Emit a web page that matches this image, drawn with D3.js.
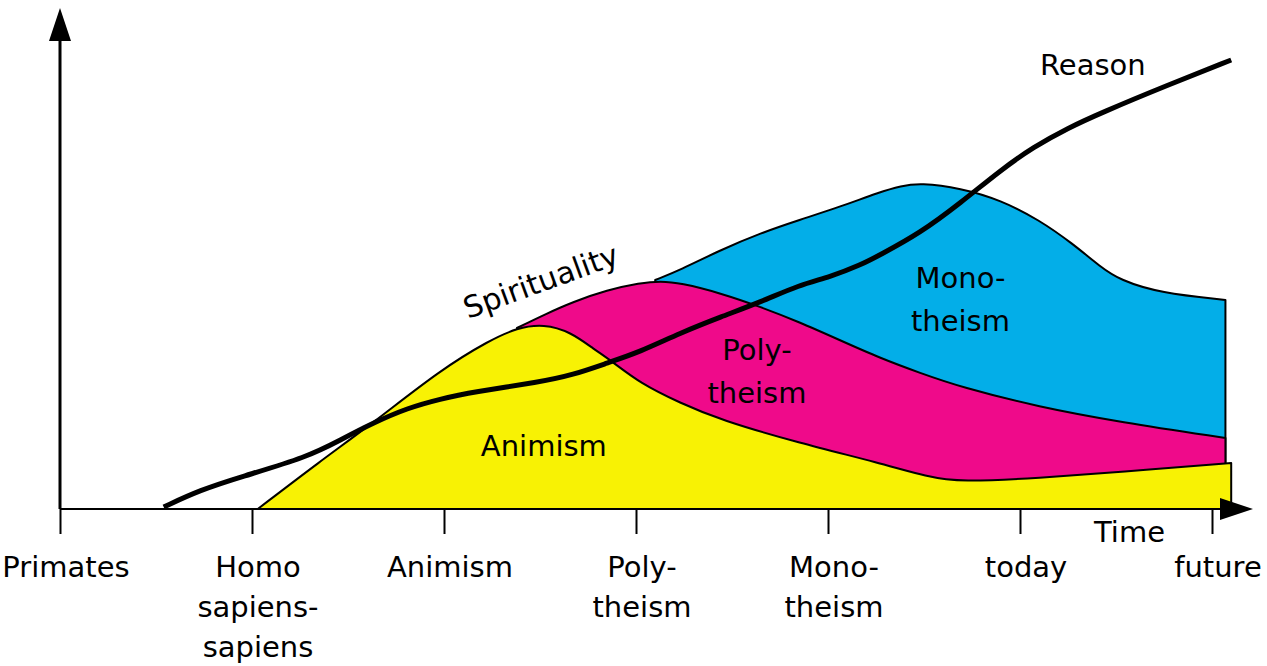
<!DOCTYPE html>
<html>
<head>
<meta charset="utf-8">
<script src="https://cdn.jsdelivr.net/npm/d3@7"></script>
<style>
  body { margin: 0; background: #fff; }
  text { font-family: "DejaVu Sans", sans-serif; font-size: 29px; fill: #000; }
</style>
</head>
<body>
<svg id="chart" width="1267" height="666"></svg>
<script>
"use strict";

// eras on the time axis (tick index 0..6), label lines
var eras = [
  ["Primates"],
  ["Homo", "sapiens-", "sapiens"],
  ["Animism"],
  ["Poly-", "theism"],
  ["Mono-", "theism"],
  ["today"],
  ["future"]
];

// [time, level]
var animism = [
  [1.03, 0], [1.35, 47], [1.63, 86], [1.98, 139], [2.24, 169], [2.38, 181],
  [2.52, 185], [2.66, 177], [2.78, 160], [2.88, 147], [3.02, 126], [3.23, 106],
  [3.44, 89], [3.85, 66], [4.27, 46], [4.52, 32], [4.69, 27], [5.10, 31],
  [5.52, 37], [6.10, 46]
];
var polytheism = [
  [2.38, 181], [2.53, 195], [2.67, 207], [2.85, 219], [3.02, 226], [3.13, 228],
  [3.23, 226], [3.44, 216], [3.65, 202], [3.85, 187], [4.06, 169], [4.27, 151],
  [4.48, 136], [4.69, 122], [5.10, 102], [5.52, 87], [6.07, 71]
];
var monotheism = [
  [3.10, 229], [3.23, 239], [3.44, 259], [3.65, 276], [3.85, 289], [4.06, 302],
  [4.27, 317], [4.38, 323], [4.48, 326], [4.69, 321], [4.90, 309], [5.10, 289],
  [5.27, 266], [5.42, 242], [5.52, 229], [5.73, 216], [6.07, 209]
];
var reason = [
  [0.54, 2], [0.73, 19], [0.94, 32], [1.29, 52], [1.46, 69], [1.63, 86],
  [1.81, 101], [1.98, 110], [2.15, 117], [2.50, 127], [2.67, 134], [2.85, 146],
  [3.02, 157], [3.23, 176], [3.44, 192], [3.65, 207], [3.85, 224], [4.01, 232],
  [4.17, 244], [4.27, 254], [4.48, 276], [4.69, 306], [4.90, 339], [5.07, 362],
  [5.25, 381], [5.42, 396], [5.77, 424], [6.10, 449]
];

var layers = [
  { name: ["Mono-", "theism"], data: monotheism, color: "#03aee8", label: [4.69, 221] },
  { name: ["Poly-", "theism"], data: polytheism, color: "#ef0a8a", label: [3.63, 149] },
  { name: ["Animism"], data: animism, color: "#f8f204", label: [2.52, 53] }
];

var svg = d3.select("#chart");
var x = d3.scaleLinear().domain([0, 6]).range([60, 1212]);
var y = d3.scaleLinear().domain([0, 500]).range([509, 9]);

var area = d3.area()
  .x(function(d) { return x(d[0]); })
  .y0(y(0))
  .y1(function(d) { return y(d[1]); })
  .curve(d3.curveBasis);

layers.forEach(function(l) {
  svg.append("path").datum(l.data)
    .attr("d", area)
    .attr("fill", l.color)
    .attr("stroke", "#000")
    .attr("stroke-width", 2)
    .attr("stroke-linejoin", "round");
});

layers.forEach(function(l) {
  var t = svg.append("text")
    .attr("text-anchor", "middle")
    .attr("x", x(l.label[0]))
    .attr("y", y(l.label[1]));
  l.name.forEach(function(s, i) {
    t.append("tspan").attr("x", x(l.label[0])).attr("dy", i ? 43 : 0).text(s);
  });
});

// reason curve
var line = d3.line()
  .x(function(d) { return x(d[0]); })
  .y(function(d) { return y(d[1]); })
  .curve(d3.curveBasis);

svg.append("path").datum(reason)
  .attr("d", line)
  .attr("fill", "none")
  .attr("stroke", "#000")
  .attr("stroke-width", 5)
  .attr("stroke-linecap", "butt");

// axes
var xAxis = svg.append("g")
  .attr("transform", "translate(0," + y(0) + ")")
  .call(d3.axisBottom(x).ticks(6).tickSize(25).tickSizeOuter(0).tickFormat(""));
xAxis.select(".domain").remove();
xAxis.selectAll(".tick line").attr("stroke", "#000").attr("stroke-width", 2);

svg.append("line")
  .attr("x1", x(0)).attr("x2", 1222)
  .attr("y1", y(0)).attr("y2", y(0))
  .attr("stroke", "#000").attr("stroke-width", 2);
svg.append("path")
  .attr("d", "M1220," + (y(0) - 11) + "L1253," + y(0) + "L1220," + (y(0) + 11) + "Z")
  .attr("fill", "#000");

svg.append("line")
  .attr("x1", x(0)).attr("x2", x(0))
  .attr("y1", y(0)).attr("y2", 38)
  .attr("stroke", "#000").attr("stroke-width", 3);
svg.append("path")
  .attr("d", "M" + (x(0) - 11) + ",41L" + x(0) + ",8L" + (x(0) + 11) + ",41Z")
  .attr("fill", "#000");

// era labels
eras.forEach(function(lines, i) {
  var t = svg.append("text")
    .attr("text-anchor", "middle")
    .attr("x", x(i) + 6)
    .attr("y", 577);
  lines.forEach(function(s, j) {
    t.append("tspan").attr("x", x(i) + 6).attr("dy", j ? 40 : 0).text(s);
  });
});

svg.append("text").attr("x", 1094).attr("y", 542).text("Time");
svg.append("text").attr("x", 1040).attr("y", 75).text("Reason");
svg.append("text")
  .attr("transform", "translate(468,319) rotate(-20)")
  .style("font-size", "30px")
  .text("Spirituality");
</script>
</body>
</html>
